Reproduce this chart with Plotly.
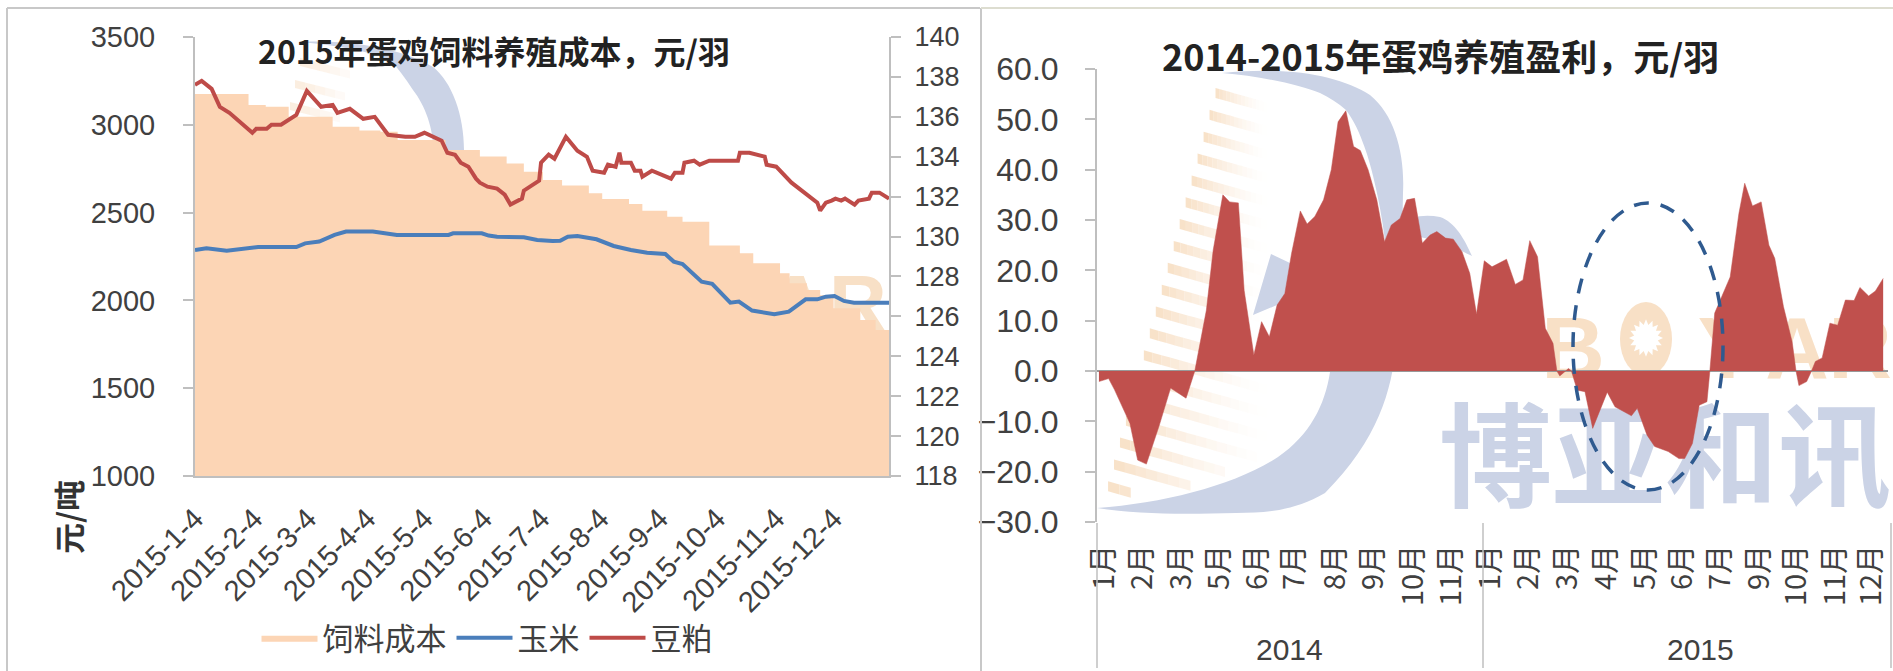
import math
import pandas as pd
import plotly.graph_objects as go

W, H = 1893, 671

# ---- Left chart data (days counted from 2015-01-04) ----
cost_days = [0,28,37,49,72,86,97,106,131,149,163,172,182,192,206,213,227,234,247,255,269,285,292,306,311,320,327,334,348,356,363.5]
cost_values = [3175,3113,3103,3046,2989,2967,2961,2914,2857,2819,2780,2733,2686,2655,2610,2578,2549,2511,2477,2448,2312,2269,2212,2154,2097,2059,2030,1955,1889,1832,1832]

corn_days = [0,6,16.6,29,33,53,57.6,65,73,79,93,105.6,132.6,135,150,153.6,158,172,179,187,191,195,200,210,219,228,236.5,246,250.4,255,265,270.5,280,284.5,291.4,303,310.6,319.4,325.5,330,334.5,339.4,344.7,363.5]
corn_values = [2287,2297,2283,2297,2304,2304,2325,2335,2373,2392,2392,2373,2373,2382,2382,2369,2363,2359,2344,2338,2340,2363,2367,2348,2310,2287,2272,2264,2221,2207,2107,2094,1987,1993,1942,1921,1936,2006,2006,2021,2025,1997,1987,1987]

soy_days = [0,3.5,8.7,13,18,24,30,32,37.5,40,45,53,58.5,66,72,74.5,81,88,94,101,110,115,120,129,132,136,139,143,147,149,153,158,162,165,171,172,180,181,185,188,194,200,205,208,214,216,220,222,223,228,230,233,234,239,249,251,255,256,261,264,269,284,285,290,298,299,304,312,325.5,327,330,333,335,338,340,345,347,352.5,354,358,363]
soy_values = [137.6,137.8,137.4,136.5,136.2,135.7,135.2,135.4,135.4,135.6,135.6,136.1,137.3,136.5,136.6,136.2,136.4,135.9,136.0,135.1,135.0,135.0,135.2,134.8,134.2,134.1,133.7,133.5,132.9,132.7,132.5,132.4,132.1,131.6,131.9,132.3,132.8,133.7,134.1,133.9,135.0,134.3,134.0,133.3,133.2,133.6,133.5,134.2,133.7,133.7,133.3,133.3,133.0,133.3,132.9,133.2,133.2,133.7,133.8,133.6,133.8,133.8,134.2,134.2,134.0,133.6,133.5,132.7,131.7,131.3,131.7,131.8,131.9,131.8,131.9,131.6,131.8,131.9,132.2,132.2,131.9]

left_tick_labels = ["2015-1-4","2015-2-4","2015-3-4","2015-4-4","2015-5-4","2015-6-4","2015-7-4","2015-8-4","2015-9-4","2015-10-4","2015-11-4","2015-12-4"]
left_tick_dates = ["2015-01-04","2015-02-04","2015-03-04","2015-04-04","2015-05-04","2015-06-04","2015-07-04","2015-08-04","2015-09-04","2015-10-04","2015-11-04","2015-12-04"]

# ---- Right chart data (position in weeks from first point) ----
profit_weeks = [0,1,1.6,3.2,4,4.9,6.2,7.4,9,9.9,11.1,11.8,12.8,13.5,14.4,15,16,16.8,17.6,18.4,19.2,19.9,20.8,21.5,22.3,23.2,24,24.7,25.5,26.3,27,27.8,28.7,29.5,30.2,31.1,31.8,32.6,33.4,34.2,34.9,35.8,36.6,37.5,38.3,39,39.8,40.6,42.1,43,43.8,44.5,45.3,46.1,46.9,47.3,47.6,48.2,48.5,48.8,49.4,50.2,51,52.5,53.3,55,55.6,56.6,57.4,58.8,59.9,60.5,61.3,62,62.8,63.1,63.6,65.2,66.1,66.7,67.5,68.4,69.2,69.8,70.7,71.6,72,72.3,73.1,73.6,74,74.7,75.5,76.3,77.1,78,78.6,79.5,80.2,81]
profit_values = [-2.1,-1.5,-3.7,-10.4,-17.7,-18.5,-11,-3.4,-5.4,0,12.1,24,35,33.6,33.4,16,3.2,9.8,6.8,13.1,15.4,23.4,31.8,29.2,30.7,34,40,49.5,51.7,44.6,43.8,40,34,25.7,29,30.3,34,34.3,25.4,27,27.7,26.4,26.2,23.7,19.4,11.3,21.9,20.7,22.2,17.2,18.1,25.9,22.7,8.5,5.5,0,-1,0,0.5,0,-3.8,-4.1,-11.4,-4.2,-7.1,-8.9,-7.4,-12.7,-15,-16,-17.4,-17.4,-14.4,-6.8,-6.1,0,11.5,18.7,31.3,37.3,32.8,33.6,25,22.4,12.8,5.8,0,-2.9,-2.1,0,1.9,2.6,9.5,9.1,14.1,14,16.6,14.9,15.9,18.4]

month_labels = ["1月","2月","3月","5月","6月","7月","8月","9月","10月","11月","1月","2月","3月","4月","5月","6月","7月","9月","10月","11月","12月"]
month_positions = [0.6,4.5,8.5,12.5,16.4,20.2,24.4,28.4,32.5,36.4,40.5,44.4,48.4,52.4,56.5,60.3,64.2,68.2,72.1,76.1,79.8]
year_labels = ["2014","2015"]

BASE = pd.Timestamp("2015-01-04")
def to_dates(days):
    return [BASE + pd.Timedelta(days=d) for d in days]

CJK = "Noto Sans CJK SC"
LAT = "Liberation Sans"
TXT = "#404040"
AXIS = "#BFBFBF"
WM_BLUE = "#CBD3E6"
WM_ORANGE = "#F8E0C6"

def px(x): return x / W
def py(y): return 1 - y / H

fig = go.Figure()
fig.add_trace(go.Scatter(x=to_dates(cost_days), y=cost_values, name="饲料成本", mode="lines",
                         line=dict(shape="hv", width=0, color="#FCD5B5"), fill="tozeroy",
                         fillcolor="#FCD5B5", xaxis="x", yaxis="y", hoverinfo="skip"))
fig.add_trace(go.Scatter(x=to_dates(corn_days), y=corn_values, name="玉米", mode="lines",
                         line=dict(width=4, color="#4A7EBB"), xaxis="x", yaxis="y"))
fig.add_trace(go.Scatter(x=to_dates(soy_days), y=soy_values, name="豆粕", mode="lines",
                         line=dict(width=4, color="#BE4B48"), xaxis="x", yaxis="y2"))
fig.add_trace(go.Scatter(x=profit_weeks, y=profit_values, name="盈利", mode="lines", showlegend=False,
                         line=dict(width=0.5, color="#C0504D"), fill="tozeroy", fillcolor="#C0504D",
                         xaxis="x2", yaxis="y3"))

shapes = []
def pshape(path, color):
    s = "M" + " L".join(f"{px(a):.5f},{py(b):.5f}" for a, b in path) + " Z"
    shapes.append(dict(type="path", xref="paper", yref="paper", path=s, fillcolor=color,
                       line=dict(width=0), layer="below"))

def cshape(start, curves, color):
    """Closed path made of cubic segments, each (c1, c2, end) in page pixels."""
    pt = lambda p: f"{px(p[0]):.5f},{py(p[1]):.5f}"
    s = "M" + pt(start)
    for c1, c2, e in curves:
        s += " C" + pt(c1) + " " + pt(c2) + " " + pt(e)
    shapes.append(dict(type="path", xref="paper", yref="paper", path=s + " Z", fillcolor=color,
                       line=dict(width=0), layer="below"))

def label(text, cx, cy, size, color, family=LAT):
    shapes.append(dict(type="rect", xref="paper", yref="paper", x0=px(cx-120), x1=px(cx+120),
                       y0=py(cy+80), y1=py(cy-80), line=dict(width=0), fillcolor="rgba(0,0,0,0)",
                       layer="below",
                       label=dict(text=text, textposition="middle center",
                                  font=dict(size=size, color=color, family=family))))

# Watermark stripes, fading out to the right, stopping at the inner edge of the swoosh
inner_edge = [(1097,508),(1165,497),(1207,487),(1278,457),(1325,397)]
def edge_y(x):
    for (a, b), (c, d) in zip(inner_edge, inner_edge[1:]):
        if a <= x <= c:
            return b + (d - b) * (x - a) / (c - a)
    return 700
for i in range(20):
    y0 = 93 + i * 21.85
    x0 = 1215.5 - i * 5.97
    n = 14
    for k in range(n):
        xa = x0 + (1267 - x0) * k / n
        xb = x0 + (1267 - x0) * (k + 1) / n
        sl = 0.28
        ya, yb = y0 + (xa - x0) * sl, y0 + (xb - x0) * sl
        if yb + 5 > edge_y(xb):
            break
        op = 0.95 * (1 - k / n) ** 1.6
        pshape([(xa, ya - 5), (xb, yb - 5), (xb, yb + 5), (xa, ya + 5)], f"rgba(248,224,198,{op:.2f})")

# Watermark, right panel: swoosh
cshape((1222,73), [((1290,66),(1340,76),(1370,95)),
                   ((1395,115),(1405,155),(1403,193)),
                   ((1402,250),(1400,320),(1396,345)),
                   ((1392,390),(1378,440),(1325,493)),
                   ((1295,510),(1270,513),(1236,513)),
                   ((1190,514),(1140,515),(1097,508)),
                   ((1165,503),(1235,485),(1278,457)),
                   ((1310,435),(1325,405),(1330,372)),
                   ((1340,320),(1380,300),(1385,240)),
                   ((1380,200),(1370,160),(1363,143)),
                   ((1358,128),(1350,115),(1346,110)),
                   ((1338,103),(1330,98),(1320,93)),
                   ((1300,85),(1260,76),(1222,73))], WM_BLUE)
# inner lobe pieces
pshape([(1271,254),(1290,263),(1330,262),(1300,300),(1277,305),(1253,315)], WM_BLUE)
cshape((1400,225), [((1410,216),(1425,214),(1440,217)),
                    ((1455,222),(1465,240),(1472,256)),
                    ((1460,250),(1430,235),(1400,235))], WM_BLUE)

# Watermark letters, right panel
label("<b>博亚和讯</b>", 1665, 467, 113, WM_BLUE, CJK)
label("<b>B</b>", 1573, 339, 88, WM_ORANGE)
shapes.append(dict(type="circle", xref="paper", yref="paper", x0=px(1620), x1=px(1672), y0=py(376), y1=py(302),
                   fillcolor=WM_ORANGE, line=dict(width=0), layer="below"))
star = []
for j in range(32):
    r = 17 if j % 2 == 0 else 12
    a = j * math.pi / 16
    star.append((1646 + r * math.cos(a), 338 + r * 1.1 * math.sin(a)))
pshape(star, "#FFFFFF")
label("<b>Y</b>", 1727, 339, 88, WM_ORANGE)
label("<b>A</b>", 1797, 339, 88, WM_ORANGE)
label("<b>R</b>", 1860, 339, 88, WM_ORANGE)

# Watermark, left panel
for i in range(3):
    y0, x0 = 62 + i * 22, 300 - i * 5
    for k in range(5):
        xa, xb = x0 + k * 10, x0 + (k + 1) * 10
        pshape([(xa, y0 - 4 + k * 2.5), (xb, y0 - 4 + (k + 1) * 2.5), (xb, y0 + 4 + (k + 1) * 2.5), (xa, y0 + 4 + k * 2.5)],
               f"rgba(248,224,198,{0.55 - k * 0.1:.2f})")
cshape((300,42), [((340,40),(395,45),(433,67)),
                  ((452,82),(464,115),(464,150)),
                  ((455,150),(440,150),(433,150)),
                  ((434,130),(425,105),(413,90)),
                  ((405,78),(398,68),(390,60)),
                  ((365,50),(335,45),(300,42))], WM_BLUE)
label("<b>A</b>", 797, 295, 80, WM_ORANGE)
label("<b>R</b>", 858, 295, 80, WM_ORANGE)

# Panel frame
for (a, b, c, d, col, wd) in [(7, 8, 7, 671, "#C8C8C8", 2), (7, 8, 980, 8, "#C8C8C8", 2),
                              (981, 8, 981, 671, "#C8C8C8", 2), (981, 8, 1893, 8, "#DDDDD0", 2),
                              (1097, 523, 1097, 668, AXIS, 1.5), (1483, 523, 1483, 668, AXIS, 1.5),
                              (1891, 523, 1891, 668, AXIS, 1.5)]:
    shapes.append(dict(type="line", xref="paper", yref="paper", x0=px(a), y0=py(b), x1=px(c), y1=py(d),
                       line=dict(color=col, width=wd), layer="above"))

# Dashed highlight ellipse
shapes.append(dict(type="circle", xref="paper", yref="paper", x0=px(1573), x1=px(1723), y0=py(490), y1=py(203),
                   line=dict(color="#2F5A8F", width=3.5, dash="15px,12px"), fillcolor="rgba(0,0,0,0)", layer="above"))

annots = [
    dict(text="<b>2015年蛋鸡饲料养殖成本，元/羽</b>", x=px(494), y=py(50), font=dict(size=32, color="#222222", family=CJK)),
    dict(text="<b>2014-2015年蛋鸡养殖盈利，元/羽</b>", x=px(1440), y=py(55), font=dict(size=36, color="#222222", family=CJK)),
    dict(text="<b>元/吨</b>", x=px(67), y=py(517), textangle=-90, font=dict(size=31, color="#333333", family=CJK)),
    dict(text=year_labels[0], x=px(1289), y=py(649), font=dict(size=30, color=TXT, family=LAT)),
    dict(text=year_labels[1], x=px(1700), y=py(649), font=dict(size=30, color=TXT, family=LAT)),
]
for a in annots:
    a.update(xref="paper", yref="paper", showarrow=False, xanchor="center", yanchor="middle")

yaxis_style = dict(showgrid=False, zeroline=False, showline=True, linecolor=AXIS, linewidth=2,
                   ticks="outside", ticklen=10, tickcolor=AXIS, tickwidth=2)

fig.update_layout(
    width=W, height=H, margin=dict(l=0, r=0, t=0, b=0, autoexpand=False), paper_bgcolor="white", plot_bgcolor="rgba(0,0,0,0)",
    font=dict(family=LAT, color=TXT), shapes=shapes, annotations=annots,
    legend=dict(orientation="h", x=px(487), xanchor="center", y=py(638), yanchor="middle",
                font=dict(size=31, family=CJK, color=TXT), itemwidth=56, bgcolor="rgba(0,0,0,0)"),
    xaxis=dict(domain=[px(195), px(889)], anchor="y", type="date",
               range=["2015-01-04", "2016-01-02"], tickvals=left_tick_dates, ticktext=left_tick_labels,
               tickangle=-45, showgrid=False, zeroline=False, showline=True, linecolor=AXIS, linewidth=2,
               ticks="", tickfont=dict(size=29, color=TXT), ticklabelstandoff=12),
    yaxis=dict(domain=[py(476), py(37)], range=[1000, 3500], tick0=1000, dtick=500, anchor="x",
               tickfont=dict(size=29, color=TXT), ticklabelstandoff=22, **yaxis_style),
    yaxis2=dict(domain=[py(476), py(37)], range=[118, 140], tick0=118, dtick=2, overlaying="y", side="right",
                anchor="x", tickfont=dict(size=27, color=TXT), ticklabelstandoff=8, **yaxis_style),
    xaxis2=dict(domain=[px(1097), px(1888)], anchor="y3", range=[-0.2, 81.5],
                tickvals=month_positions, ticktext=month_labels, tickangle=-90, showgrid=False, zeroline=False,
                showline=False, ticks="", tickfont=dict(size=29, color=TXT, family=CJK), ticklabelstandoff=16),
    yaxis3=dict(domain=[py(522), py(69)], range=[-30, 60], tick0=-30, dtick=10, anchor="x2", tickformat=".1f",
                tickfont=dict(size=32, color=TXT), ticklabelstandoff=20,
                showgrid=False, zeroline=True, zerolinecolor="#999999", zerolinewidth=2, showline=True,
                linecolor=AXIS, linewidth=2, ticks="outside", ticklen=10, tickcolor=AXIS, tickwidth=2),
)

fig.write_html("out.html", config=dict(displayModeBar=False),
               post_script="document.body.style.margin='0';document.body.style.overflow='hidden';")
